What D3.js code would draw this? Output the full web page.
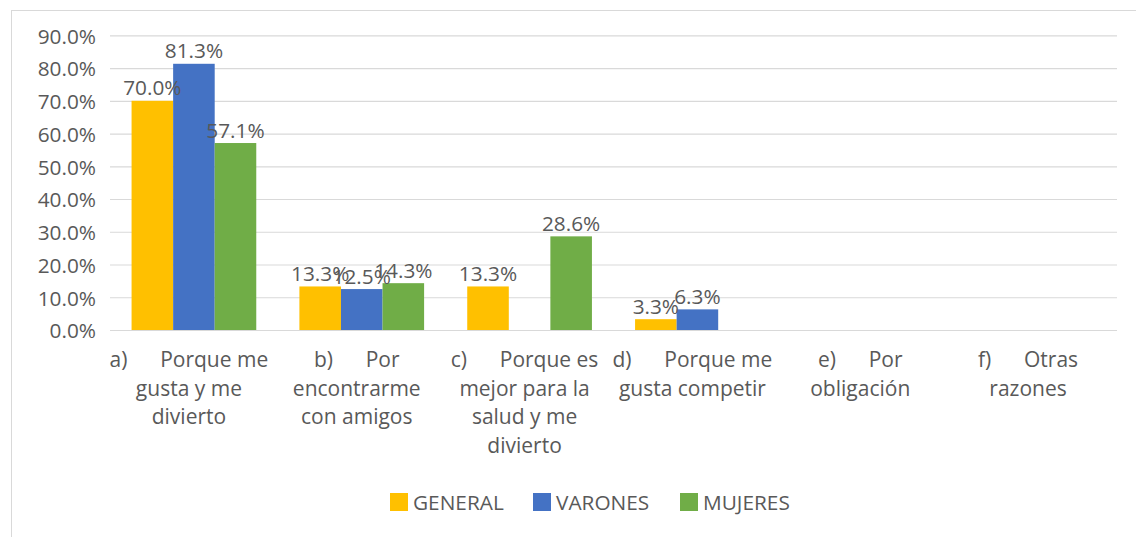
<!DOCTYPE html>
<html>
<head>
<meta charset="utf-8">
<script src="https://cdn.jsdelivr.net/npm/d3@7/dist/d3.min.js"></script>
<style>
  html, body { margin: 0; padding: 0; background: #fff; }
  svg { display: block; }
  text { font-family: "Open Sans", "Noto Sans", sans-serif; fill: #595959; }
</style>
</head>
<body>
<svg id="chart" width="1136" height="537"></svg>
<script>
const categories = ["a", "b", "c", "d", "e", "f"];
const categoryLines = [
  ["a)      Porque me", "gusta y me", "divierto"],
  ["b)      Por", "encontrarme", "con amigos"],
  ["c)      Porque es", "mejor para la", "salud y me", "divierto"],
  ["d)      Porque me", "gusta competir"],
  ["e)      Por", "obligación"],
  ["f)      Otras", "razones"]
];
const seriesNames = ["GENERAL", "VARONES", "MUJERES"];
const general = [0.700, 0.133, 0.133, 0.033, 0, 0];
const varones = [0.813, 0.125, 0, 0.063, 0, 0];
const mujeres = [0.571, 0.143, 0.286, 0, 0, 0];
const colors = ["#FFC000", "#4472C4", "#70AD47"];
const yTicks = [0, 0.1, 0.2, 0.3, 0.4, 0.5, 0.6, 0.7, 0.8, 0.9];

const seriesValues = [general, varones, mujeres];
const svg = d3.select("#chart");
const W = 1136, H = 537;
svg.append("rect").attr("width", W).attr("height", H).attr("fill", "#fff");

// frame
svg.append("line").attr("x1", 11).attr("x2", W).attr("y1", 10.5).attr("y2", 10.5)
  .attr("stroke", "#d9d9d9").attr("stroke-width", 1);
svg.append("line").attr("x1", 11.5).attr("x2", 11.5).attr("y1", 10).attr("y2", H)
  .attr("stroke", "#d9d9d9").attr("stroke-width", 1);

const plotL = 110, plotR = 1117;
const y = d3.scaleLinear().domain([0, 0.9]).range([330, 35.3]);
const x0 = d3.scaleBand().domain(categories).range([plotL, plotR]).paddingInner(0.257).paddingOuter(0.1285);
const x1 = d3.scaleBand().domain(seriesNames).range([0, x0.bandwidth()]);

// grid + y axis
const yAxis = d3.axisLeft(y).tickValues(yTicks).tickFormat(d3.format(".1%"))
  .tickSize(-(plotR - plotL)).tickPadding(14);
const gy = svg.append("g").attr("transform", `translate(${plotL},0)`).call(yAxis);
gy.select(".domain").remove();
gy.selectAll(".tick line").attr("stroke", "#d9d9d9").attr("stroke-width", 1.2);
gy.selectAll(".tick text").attr("font-size", 20.8).attr("fill", "#595959")
  .attr("dy", null).attr("dominant-baseline", "auto").attr("y", 7.8);

// bars
const groups = svg.append("g").selectAll("g").data(categories).join("g")
  .attr("transform", d => `translate(${x0(d)},0)`);
groups.selectAll("rect").data((c, i) => seriesNames.map((s, j) => ({s, j, v: seriesValues[j][i]})))
  .join("rect")
  .attr("x", d => x1(d.s))
  .attr("width", x1.bandwidth())
  .attr("y", d => y(d.v))
  .attr("height", d => y(0) - y(d.v))
  .attr("fill", d => colors[d.j]);

// data labels
groups.selectAll("text.lbl").data((c, i) => seriesNames.map((s, j) => ({s, j, v: seriesValues[j][i]})).filter(d => d.v > 0))
  .join("text").attr("class", "lbl")
  .attr("x", d => x1(d.s) + x1.bandwidth() / 2)
  .attr("y", d => y(d.v) - 5.5)
  .attr("text-anchor", "middle")
  .attr("font-size", 20.8)
  .text(d => d3.format(".1%")(d.v));

// category labels
const cl = svg.append("g").selectAll("text").data(categories).join("text")
  .attr("text-anchor", "middle")
  .attr("font-size", 21)
  .style("white-space", "pre")
  .attr("xml:space", "preserve");
cl.each(function(c, i) {
  const t = d3.select(this);
  const cx = x0(c) + x0.bandwidth() / 2 - 5;
  categoryLines[i].forEach((ln, k) => {
    t.append("tspan").attr("x", cx).attr("y", 367 + k * 28.7).text(ln);
  });
});

// legend
const legendX = [390, 533, 680];
const lg = svg.append("g").selectAll("g").data(seriesNames).join("g")
  .attr("transform", (d, i) => `translate(${legendX[i]},493)`);
lg.append("rect").attr("width", 18).attr("height", 18).attr("fill", (d, i) => colors[i]);
lg.append("text").attr("x", 23).attr("y", 16.5).attr("font-size", 20.8).text(d => d);
</script>
</body>
</html>
